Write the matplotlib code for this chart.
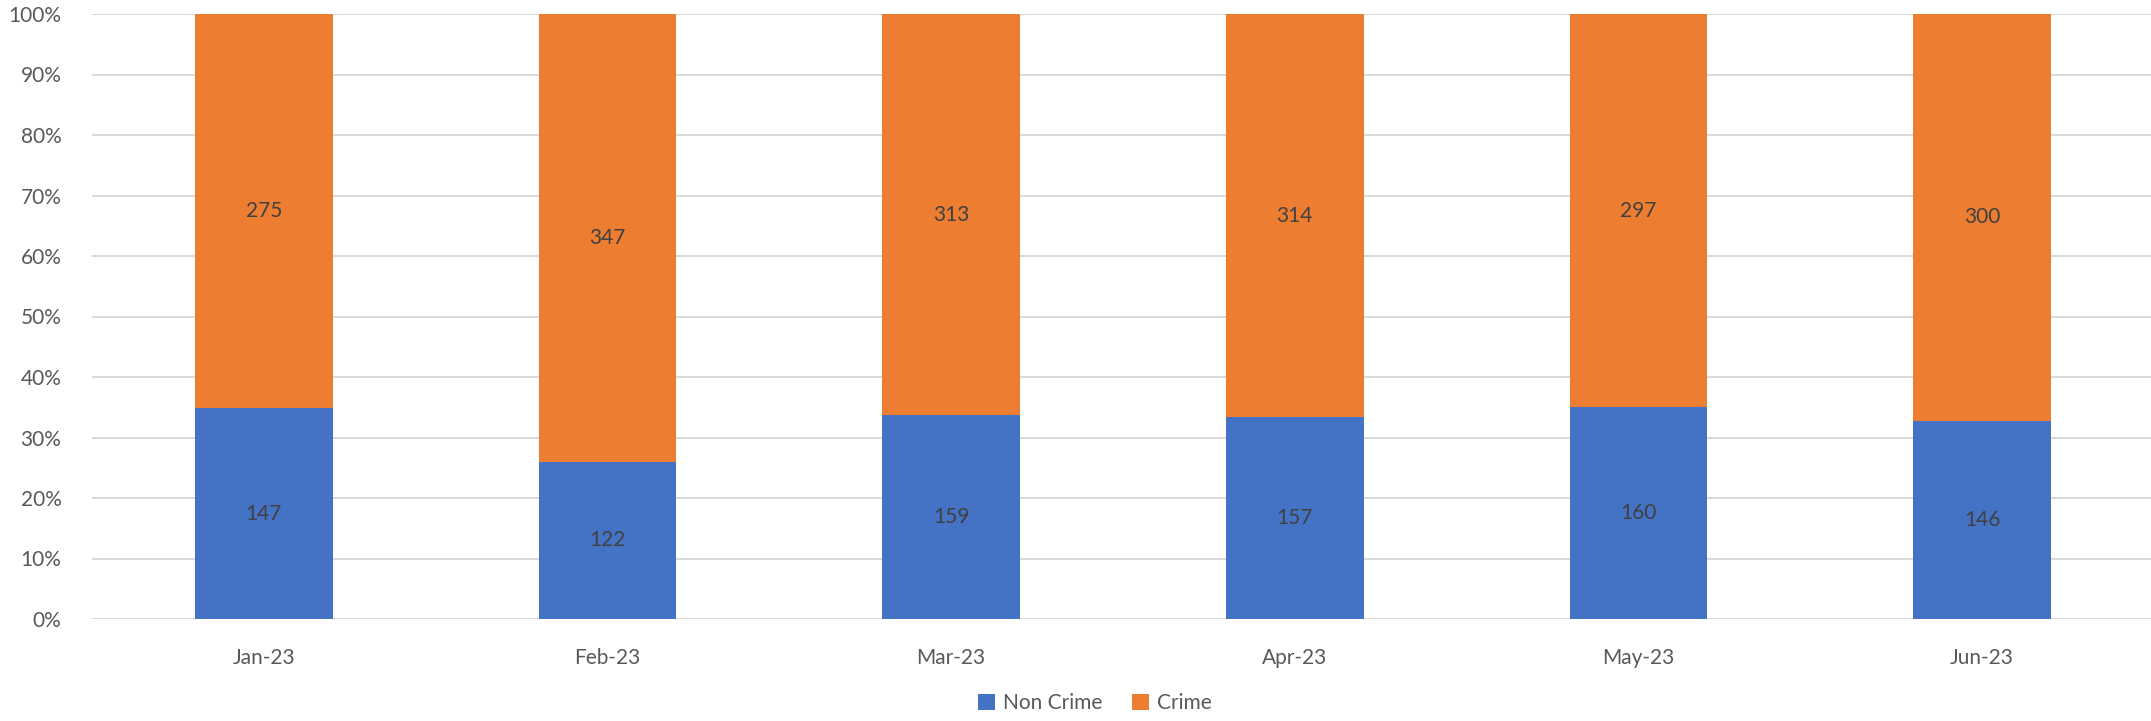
import matplotlib
matplotlib.use("Agg")
import matplotlib.pyplot as plt
import numpy as np

months = ["Jan-23", "Feb-23", "Mar-23", "Apr-23", "May-23", "Jun-23"]
non_crime = [147, 122, 159, 157, 160, 146]
crime = [275, 347, 313, 314, 297, 300]

plt.rcParams['font.family'] = ['Lato', 'DejaVu Sans']

W, H = 2151, 721
fig = plt.figure(figsize=(W/100, H/100), dpi=100)
left, right, top, bot = 92, 2154, 14, 619
ax = fig.add_axes([left/W, (H-bot)/H, (right-left)/W, (bot-top)/H])

nc = np.array(non_crime, float)
cr = np.array(crime, float)
tot = nc + cr
pn = nc / tot * 100
pc = cr / tot * 100
x = np.arange(len(months))
bw = 0.4
blue = "#4472C4"
orange = "#ED7D31"
fs = 15
ax.bar(x, pn, bw, color=blue, label="Non Crime", zorder=3)
ax.bar(x, pc, bw, bottom=pn, color=orange, label="Crime", zorder=3)
for i in range(len(months)):
    ax.text(x[i], pn[i]/2, f"{non_crime[i]}", ha="center", va="center", fontsize=fs, color="#404040", zorder=4)
    ax.text(x[i], pn[i] + pc[i]/2, f"{crime[i]}", ha="center", va="center", fontsize=fs, color="#404040", zorder=4)

ax.set_xlim(-0.5, len(months)-0.5)
ax.set_ylim(0, 100)
ax.set_yticks(np.arange(0, 101, 10))
ax.set_yticklabels([f"{v}%" for v in range(0, 101, 10)])
ax.set_xticks(x)
ax.set_xticklabels(months)
ax.grid(axis="y", color="#D9D9D9", linewidth=1.4, zorder=0)
ax.set_axisbelow(True)
for s in ax.spines.values():
    s.set_visible(False)
ax.tick_params(axis="both", length=0, labelsize=fs, labelcolor="#595959")
ax.tick_params(axis="y", pad=22)
ax.tick_params(axis="x", pad=21)

fig.legend(loc="center", bbox_to_anchor=(1095/W, 1-703/H), ncol=2, frameon=False,
           fontsize=fs, labelcolor="#595959", handlelength=0.8, handleheight=0.8,
           handletextpad=0.4, columnspacing=1.4)

fig.savefig("out.png", dpi=100)
